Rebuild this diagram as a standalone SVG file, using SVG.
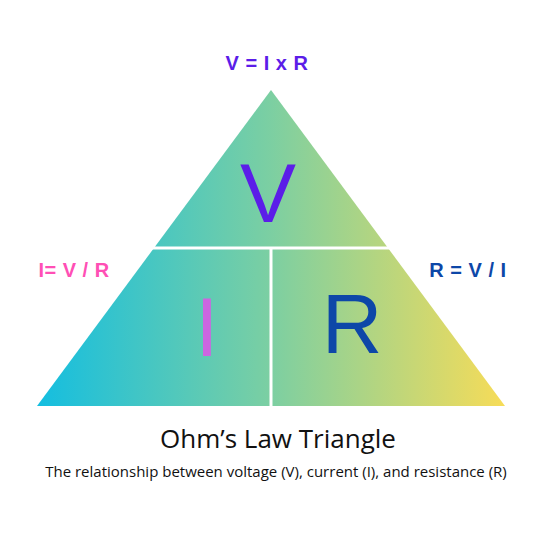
<svg xmlns="http://www.w3.org/2000/svg" width="553" height="553" viewBox="0 0 553 553">
<defs>
<linearGradient id="g" x1="37" y1="0" x2="505" y2="0" gradientUnits="userSpaceOnUse">
<stop offset="0" stop-color="#14BEE0"/>
<stop offset="0.5" stop-color="#7CCFA2"/>
<stop offset="1" stop-color="#F7DC58"/>
</linearGradient>
</defs>
<style>
.lbl{font-family:"Liberation Sans",Arial,sans-serif;font-weight:bold;font-size:20px;text-anchor:middle;letter-spacing:0.5px}
.big{font-family:"Liberation Sans",Arial,sans-serif;font-size:84px;text-anchor:middle}
.div{stroke:#fff;stroke-width:3;fill:none}
</style>
<rect width="553" height="553" fill="#fff"/>
<g id="triangle">
<polygon points="271,90 505,406 37,406" fill="url(#g)"/>
</g>
<g id="connectors">
<line class="div" x1="100" y1="248" x2="445" y2="248"/>
<line class="div" x1="271" y1="248" x2="271" y2="407"/>
</g>
<g id="node-V"><text class="big" x="268" y="222" fill="#5B1DE8">V</text></g>
<g id="node-I"><text class="big" x="207" y="356" fill="#CC66E0">I</text></g>
<g id="node-R"><text class="big" x="352" y="353" fill="#0D47A8">R</text></g>
<g id="label-top"><text class="lbl" x="267" y="70" fill="#5B1DE8">V = I x R</text></g>
<g id="label-left"><text class="lbl" x="74" y="277" fill="#FF4FB5">I= V / R</text></g>
<g id="label-right"><text class="lbl" x="468" y="277" fill="#0D47A8">R = V / I</text></g>
<g id="title">
<text x="278" y="448" font-family="'Open Sans',sans-serif" font-size="26" text-anchor="middle" fill="#111">Ohm’s Law Triangle</text>
<text x="276" y="477" font-family="'Open Sans',sans-serif" font-size="15" text-anchor="middle" fill="#111">The relationship between voltage (V), current (I), and resistance (R)</text>
</g>
</svg>
